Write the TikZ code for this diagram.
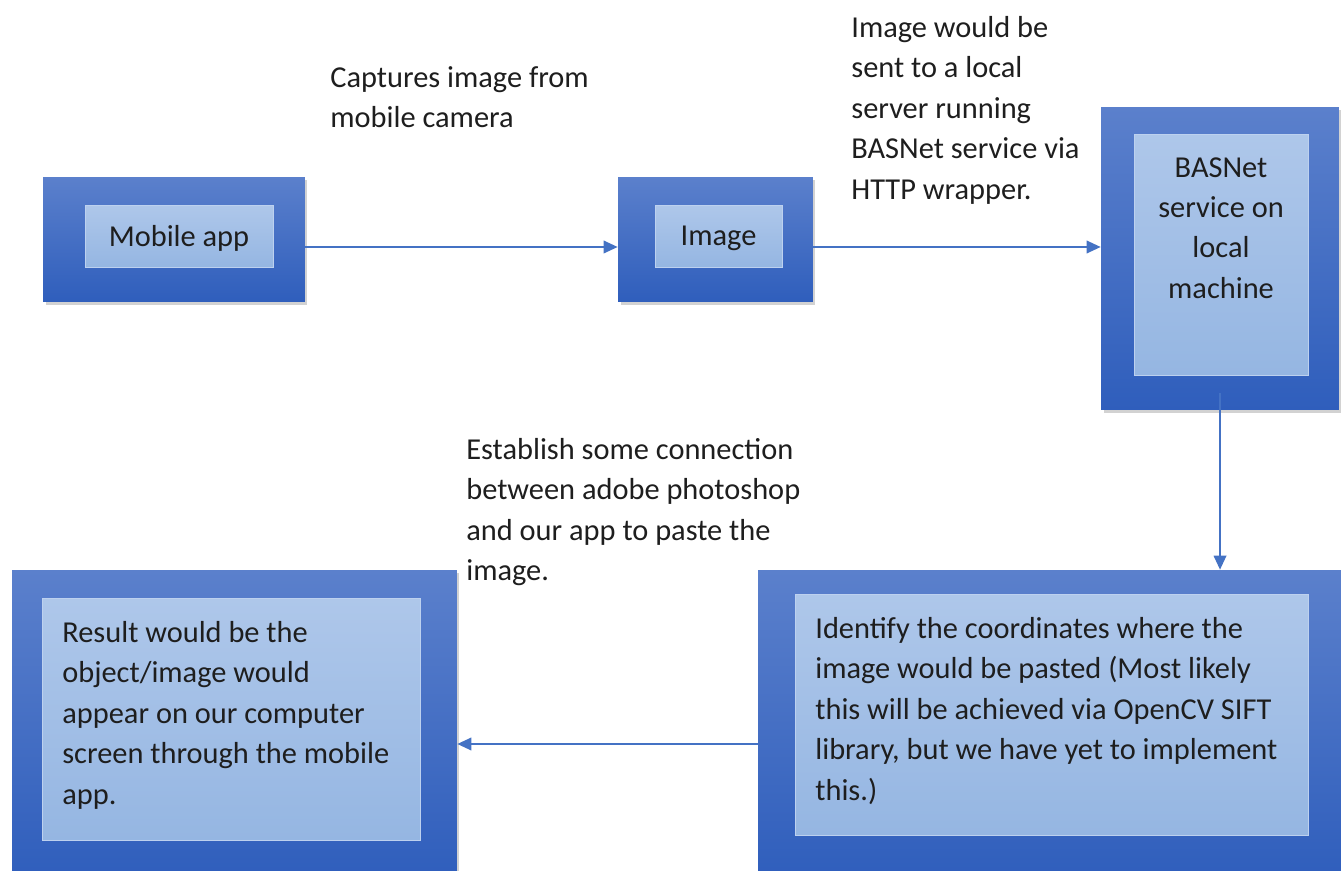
\documentclass[tikz,border=0pt]{standalone}
\usepackage{fontspec}
\setmainfont{Carlito}
\usetikzlibrary{arrows.meta,shadows}
\definecolor{blocktop}{HTML}{5B80CC}
\definecolor{blockbot}{HTML}{2F5EBC}
\definecolor{paneltop}{HTML}{AEC7EA}
\definecolor{panelbot}{HTML}{95B6E2}
\definecolor{panelrim}{HTML}{BDD1EF}
\definecolor{flowblue}{HTML}{4472C4}
\definecolor{ink}{HTML}{1E1E1E}

\begin{document}
\begin{tikzpicture}[x=0.02cm,y=-0.02cm,>={Triangle[length=2.8mm,width=2.5mm]},
  font=\fontsize{17.3}{23}\selectfont,
  block/.style={rectangle,top color=blocktop,bottom color=blockbot,
    drop shadow={shadow xshift=0.05cm,shadow yshift=-0.06cm,opacity=0.35}},
  panel/.style={rectangle,top color=paneltop,bottom color=panelbot,draw=panelrim,
    line width=0.4pt,text=ink,text depth=0pt},
  note/.style={text=ink,align=left,anchor=north west,inner sep=0pt},
  flow/.style={->,flowblue,line width=1.1pt}]
  \useasboundingbox[fill=white] (0,0) rectangle (1341,871);
  % outer blocks
  \node[block,minimum width=5.24cm,minimum height=2.5cm] (mobile) at (174,239.5) {};
  \node[block,minimum width=3.9cm,minimum height=2.5cm] (image) at (715.5,239.5) {};
  \node[block,minimum width=4.76cm,minimum height=6.06cm] (basnet) at (1220,258.5) {};
  \node[block,minimum width=8.9cm,minimum height=6.2cm] (result) at (234.5,725) {};
  \node[block,minimum width=11.74cm,minimum height=6.2cm] (identify) at (1051.5,725) {};
  % light panels with the text
  \node[panel,minimum width=3.76cm,minimum height=1.24cm] (mobilepanel) at (179,236) {Mobile app};
  \node[panel,minimum width=2.54cm,minimum height=1.24cm] (imagepanel) at (718.5,236) {Image};
  \node[panel,minimum width=3.48cm,minimum height=4.82cm] (basnetpanel) at (1221,254.5) {};
  \node[text=ink,align=center,inner sep=0pt] (basnettext) at (1221,228)
    {BASNet\\service on\\local\\machine};
  \node[panel,minimum width=7.56cm,minimum height=4.84cm] (resultpanel) at (231,719) {};
  \node[note] (resulttext) at (62,621)
    {Result would be the\\object/image would\\appear on our computer\\screen through the mobile\\app.};
  \node[panel,minimum width=10.26cm,minimum height=4.82cm] (identifypanel) at (1051.5,714.5) {};
  \node[note] (identifytext) at (815,617)
    {Identify the coordinates where the\\image would be pasted (Most likely\\this will be achieved via OpenCV SIFT\\library, but we have yet to implement\\this.)};
  % notes beside the arrows
  \node[note] (capturenote) at (330,66) {Captures image from\\mobile camera};
  \node[note] (sendnote) at (851,16)
    {Image would be\\sent to a local\\server running\\BASNet service via\\HTTP wrapper.};
  \node[note] (connectnote) at (466,438)
    {Establish some connection\\between adobe photoshop\\and our app to paste the\\image.};
  % flow between the blocks
  \draw[flow] ([yshift=-0.15cm]mobile.east) -- ([yshift=-0.15cm]mobile.east -| image.west);
  \draw[flow] ([yshift=-0.15cm]image.east) -- ([yshift=-0.15cm]image.east -| basnet.west);
  \draw[flow] ([yshift=0.34cm]basnet.south) -- (basnet.south |- identify.north);
  \draw[flow] ([yshift=-0.38cm]identify.west) -- ([yshift=-0.38cm]identify.west -| result.east);
\end{tikzpicture}
\end{document}
